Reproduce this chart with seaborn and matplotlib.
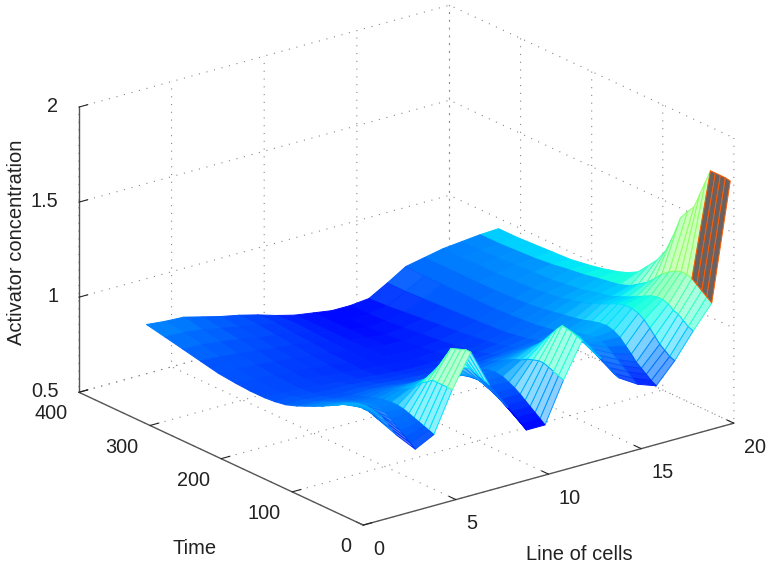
import numpy as np
import seaborn as sns
import matplotlib
matplotlib.use("Agg")
import matplotlib.pyplot as plt

# time rows
times = [5, 12, 19, 26, 33, 40, 48, 56, 65, 75, 85, 96, 108, 120, 135, 150, 165, 185, 205, 230, 255, 280, 305, 331]
cells = list(range(1, 21))

# one list per cell, one value per time row
activator = [
    [1.02, 1.03, 1.04, 1.04, 1.04, 1.03, 1.02, 1.01, .99, .97, .95, .93, .91, .89, .87, .86, .855, .855, .86, .87, .89, .91, .93, .95],
    [.91, .93, .95, .97, .98, .985, .99, .985, .975, .96, .94, .925, .905, .885, .87, .86, .85, .85, .855, .865, .885, .905, .925, .94],
    [.81, .83, .85, .87, .89, .91, .93, .94, .94, .93, .92, .905, .89, .875, .86, .85, .845, .845, .85, .86, .875, .895, .915, .935],
    [.86, .87, .88, .89, .90, .91, .92, .925, .925, .92, .91, .895, .88, .865, .85, .84, .835, .835, .84, .85, .865, .88, .895, .91],
    [1.07, 1.07, 1.07, 1.07, 1.07, 1.05, 1.03, 1.0, .97, .95, .93, .91, .89, .87, .85, .84, .83, .825, .83, .84, .85, .86, .875, .885],
    [1.24, 1.24, 1.23, 1.22, 1.21, 1.16, 1.10, 1.05, 1.0, .97, .94, .91, .885, .865, .845, .83, .82, .815, .82, .83, .84, .85, .86, .865],
    [1.04, 1.05, 1.06, 1.07, 1.08, 1.07, 1.05, 1.02, .99, .96, .93, .90, .875, .855, .835, .82, .81, .805, .81, .815, .825, .83, .84, .84],
    [.895, .91, .925, .94, .95, .96, .97, .97, .96, .945, .92, .895, .87, .85, .83, .815, .80, .795, .795, .80, .805, .81, .815, .81],
    [.75, .77, .79, .81, .83, .85, .87, .89, .90, .905, .90, .885, .865, .845, .825, .81, .795, .785, .785, .785, .785, .785, .785, .785],
    [.75, .77, .79, .81, .83, .85, .87, .885, .90, .905, .90, .885, .865, .845, .825, .81, .795, .785, .78, .775, .77, .77, .77, .77],
    [.96, .97, .98, .99, 1.0, 1.0, .99, .98, .96, .945, .925, .90, .88, .855, .835, .815, .80, .79, .78, .77, .76, .755, .755, .755],
    [1.14, 1.15, 1.16, 1.165, 1.17, 1.14, 1.10, 1.06, 1.02, .985, .95, .92, .89, .865, .84, .825, .81, .80, .79, .78, .77, .76, .755, .755],
    [1.02, 1.03, 1.05, 1.06, 1.08, 1.07, 1.06, 1.04, 1.01, .98, .95, .925, .90, .875, .855, .84, .83, .82, .81, .80, .79, .78, .77, .765],
    [.89, .90, .92, .94, .96, .98, .99, .99, .98, .965, .945, .925, .905, .885, .87, .86, .85, .845, .84, .835, .83, .825, .82, .82],
    [.83, .85, .87, .89, .91, .93, .95, .965, .97, .965, .955, .94, .925, .91, .90, .89, .885, .88, .875, .875, .875, .875, .875, .88],
    [.795, .81, .83, .85, .87, .90, .93, .96, .98, .99, .985, .975, .96, .95, .94, .93, .92, .91, .905, .90, .90, .90, .90, .90],
    [.90, .91, .93, .95, .98, 1.01, 1.04, 1.06, 1.07, 1.07, 1.06, 1.04, 1.02, 1.0, .98, .965, .95, .94, .93, .925, .92, .92, .92, .92],
    [1.03, 1.04, 1.06, 1.08, 1.09, 1.11, 1.12, 1.12, 1.11, 1.09, 1.07, 1.05, 1.03, 1.01, 1.0, .985, .97, .96, .95, .945, .94, .935, .93, .93],
    [1.15, 1.17, 1.19, 1.21, 1.23, 1.24, 1.24, 1.23, 1.21, 1.18, 1.14, 1.10, 1.07, 1.04, 1.02, 1.01, 1.0, .985, .975, .96, .95, .945, .94, .94],
    [1.765, 1.77, 1.77, 1.77, 1.77, 1.70, 1.62, 1.54, 1.50, 1.45, 1.34, 1.24, 1.17, 1.12, 1.06, 1.03, 1.01, .99, .975, .96, .955, .95, .945, .945],
]

x_ticks = [0, 5, 10, 15, 20]
y_ticks = [0, 100, 200, 300, 400]
z_ticks = [0.5, 1, 1.5, 2]
z_tick_labels = ["0.5", "1", "1.5", "2"]

sns.set_theme(style="white")
plt.rcParams["font.family"] = ["Liberation Sans", "DejaVu Sans"]

X, Y = np.meshgrid(cells, times)
Z = np.array(activator).T

jet = plt.get_cmap("jet")
norm = plt.Normalize(0.55, 2.05)

# flat colour per face from its higher cell, paler where the face is steep so it reads like an open mesh
corners = np.stack([Z[:-1, :-1], Z[1:, :-1], Z[:-1, 1:], Z[1:, 1:]])
edge_col = jet(norm(Z[:-1, 1:]))
edge_col[4:, 18] = jet(norm(Z[4:-1, 18] + 0.1))
span = corners.max(axis=0) - corners.min(axis=0)
pale = 0.55 * np.clip((span - 0.05) / 0.1, 0, 1)[..., None]
face_col = edge_col.copy()
face_col[..., :3] = edge_col[..., :3] * (1 - pale) + pale
face_col[:4, 18, :3] = (0.42, 0.38, 0.38)

fig = plt.figure(figsize=(7.68, 5.65), dpi=100)
ax = fig.add_axes([12 / 768, (289.5 - 384) / 565, 1, 768 / 565], projection="3d")
ax.set_proj_type("ortho")
ax.view_init(elev=21, azim=-127.5)
ax.set_box_aspect((1, 1, 0.654), zoom=0.92)

surf = ax.plot_surface(X, Y, Z, facecolors=face_col, rstride=1, cstride=1, shade=False, linewidth=0.7)
surf.set_edgecolor(edge_col.reshape(-1, 4))

ax.set_xlim(0, 20, view_margin=0)
ax.set_ylim(0, 400, view_margin=0)
ax.set_zlim(0.5, 2, view_margin=0)
ax.set_xticks(x_ticks)
ax.set_yticks(y_ticks)
ax.set_zticks(z_ticks)
ax.set_zticklabels(z_tick_labels)
ax.xaxis.set_ticks_position("lower")
ax.yaxis.set_ticks_position("lower")
ax.zaxis.set_ticks_position("upper")

for axis in (ax.xaxis, ax.yaxis, ax.zaxis):
    axis.set_pane_color((1, 1, 1, 0))
    axis.pane.set_edgecolor("none")
    axis.line.set_color("#555555")
    axis.line.set_linewidth(1.0)
    axis._axinfo["grid"].update(color="#888888", linestyle=(0, (1, 6)), linewidth=0.8)
    axis._axinfo["tick"].update(inward_factor=0.0, outward_factor=0.3, linewidth={True: 0.8, False: 0.5})
ax.tick_params(labelsize=14.3, colors="#222222")
ax.tick_params(axis="x", pad=2)
ax.tick_params(axis="y", pad=1)
ax.tick_params(axis="z", pad=1)
plt.setp(ax.get_xticklabels(), ha="left")
plt.setp(ax.get_yticklabels(), ha="right")
plt.setp(ax.get_zticklabels(), ha="right", va="center")

fig.text(17 / 768, 1 - 242 / 565, "Activator concentration", rotation=90, ha="center", va="center", fontsize=14.5, color="#222222")
fig.text(195 / 768, 1 - 548 / 565, "Time", ha="center", va="center", fontsize=14.5, color="#222222")
fig.text(579 / 768, 1 - 555 / 565, "Line of cells", ha="center", va="center", fontsize=14.5, color="#222222")

fig.savefig("out.png", dpi=100)
